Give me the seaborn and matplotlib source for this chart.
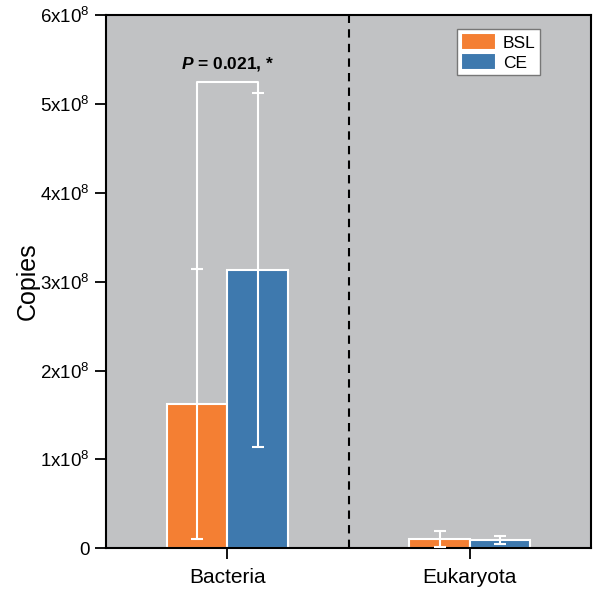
import matplotlib
matplotlib.use("Agg")
import matplotlib.pyplot as plt
import seaborn as sns
import pandas as pd
import numpy as np

categories = ["Bacteria", "Eukaryota"]
groups = ["BSL", "CE"]
means_bsl = [1.62e8, 1.1e7]
means_ce = [3.13e8, 0.95e7]
sd_bsl = [1.52e8, 0.9e7]
sd_ce = [1.99e8, 0.45e7]
yticks = [0, 1e8, 2e8, 3e8, 4e8, 5e8, 6e8]
ytick_labels = ["0"] + [r"%dx10$^{8}$" % i for i in range(1, 7)]
colors = {"BSL": "#F47F33", "CE": "#3E79AE"}

sns.set_style("ticks")
plt.rcParams["font.family"] = ["Liberation Sans", "DejaVu Sans"]
plt.rcParams["mathtext.fontset"] = "custom"
plt.rcParams["mathtext.rm"] = "Liberation Sans"
plt.rcParams["mathtext.bf"] = "Liberation Sans:bold"
plt.rcParams["mathtext.it"] = "Liberation Sans:italic"
plt.rcParams["mathtext.bfit"] = "Liberation Sans:italic:bold"
plt.rcParams["text.color"] = "black"
plt.rcParams["xtick.color"] = "black"
plt.rcParams["ytick.color"] = "black"
plt.rcParams["axes.labelcolor"] = "black"

df = pd.DataFrame({
    "category": categories * 2,
    "group": ["BSL"] * 2 + ["CE"] * 2,
    "copies": means_bsl + means_ce,
    "sd": sd_bsl + sd_ce,
})

fig, ax = plt.subplots(figsize=(6.0, 5.96), dpi=100)
fig.subplots_adjust(left=0.177, right=0.985, top=0.975, bottom=0.08)
ax.set_facecolor("#C1C2C4")

sns.barplot(data=df, x="category", y="copies", hue="group", order=categories,
            hue_order=groups, palette=colors, width=0.5, errorbar=None,
            edgecolor="white", linewidth=1.5, saturation=1, ax=ax)

# error bars
for container, g in zip(ax.containers, groups):
    sub = df[df.group == g].set_index("category").loc[categories]
    xs = [p.get_x() + p.get_width() / 2 for p in container.patches]
    ax.errorbar(xs, sub["copies"].values, yerr=sub["sd"].values, fmt="none",
                ecolor="white", elinewidth=1.5, capsize=4.3, capthick=1.5, zorder=5)

# significance bracket
c0 = ax.containers[0].patches[0]
c1 = ax.containers[1].patches[0]
xa = c0.get_x() + c0.get_width() / 2
xb = c1.get_x() + c1.get_width() / 2
ya = means_bsl[0] + sd_bsl[0]
yb = means_ce[0] + sd_ce[0]
ytop = 5.24e8
ax.plot([xa, xa, xb, xb], [ya, ytop, ytop, yb], color="white", lw=1.5, zorder=6)
ax.text((xa + xb) / 2, 5.35e8, r"$\mathbfit{P}$ = 0.021, *", ha="center", va="bottom",
        fontsize=12.5, fontweight="bold")

ax.axvline(0.5, color="black", ls=(0, (4, 3)), lw=1.5)

ax.set_xlim(-0.5, 1.5)
ax.set_ylim(0, 6e8)
ax.set_yticks(yticks)
ax.set_yticklabels(ytick_labels)
ax.set_xlabel("")
ax.set_ylabel("Copies", fontsize=18, labelpad=0)
ax.tick_params(axis="y", length=8, width=1.3, labelsize=13.5, pad=4)
ax.tick_params(axis="x", length=8, width=1.3, labelsize=15, pad=6)
for s in ax.spines.values():
    s.set_linewidth(1.5)
    s.set_color("black")

leg = ax.legend(loc="upper right", bbox_to_anchor=(0.895, 0.974), borderaxespad=0,
                fontsize=12.5, frameon=True, fancybox=False, edgecolor="#777777",
                framealpha=1, handlelength=2.0, handleheight=1.15, handletextpad=0.4,
                borderpad=0.25, labelspacing=0.15)
leg.get_frame().set_facecolor("white")
leg.get_frame().set_linewidth(1.0)
leg.set_title(None)

fig.savefig("out.png", dpi=100)
